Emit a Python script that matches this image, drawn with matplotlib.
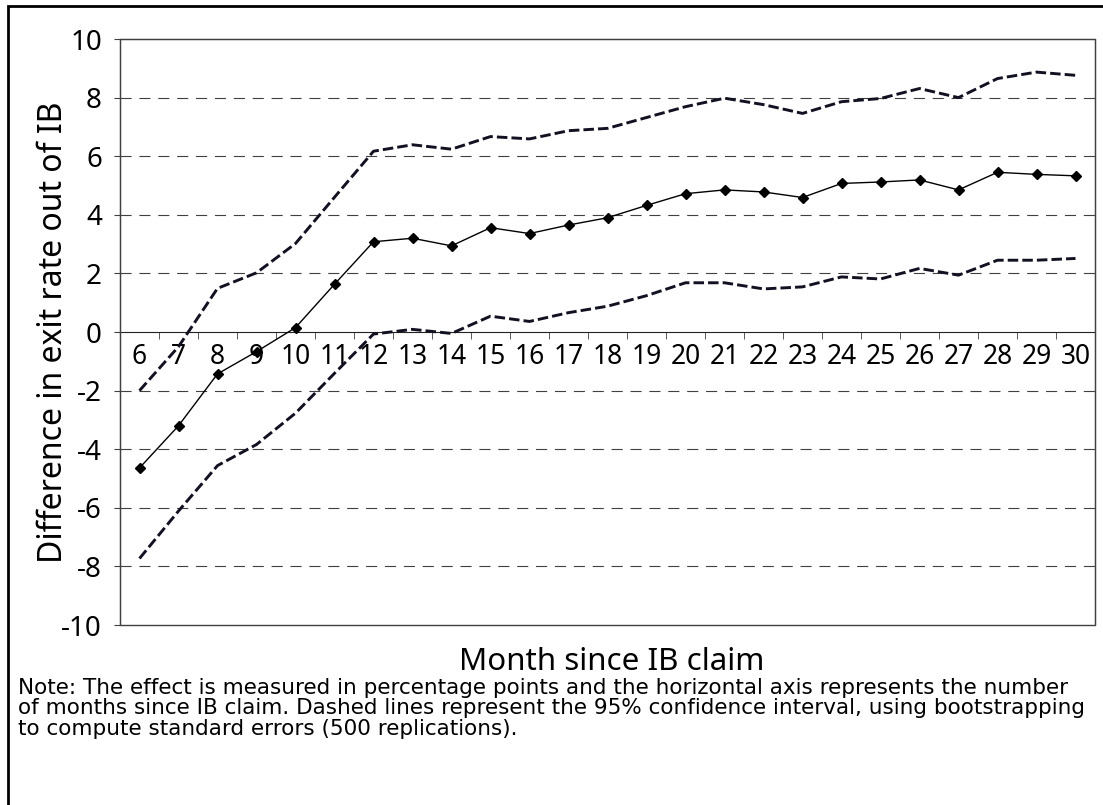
"""Effect on exit rate out of IB by month since claim, with 95% CI."""

import matplotlib
matplotlib.use("Agg")
import matplotlib.pyplot as plt
from matplotlib.patches import Rectangle

plt.rcParams["font.family"] = ["Noto Sans", "DejaVu Sans"]

months = list(range(6, 31))
effect = [-4.64, -3.20, -1.43, -0.67, 0.15, 1.63, 3.08, 3.20, 2.94, 3.56,
          3.36, 3.65, 3.90, 4.32, 4.72, 4.85, 4.78, 4.59, 5.07, 5.12,
          5.19, 4.85, 5.45, 5.38, 5.33]
upper = [-2.00, -0.50, 1.49, 2.02, 3.02, 4.60, 6.17, 6.39, 6.24, 6.67,
         6.59, 6.87, 6.95, 7.32, 7.69, 7.98, 7.76, 7.46, 7.86, 7.97,
         8.31, 8.00, 8.65, 8.87, 8.76]
lower = [-7.73, -6.11, -4.56, -3.84, -2.77, -1.41, -0.07, 0.09, -0.05, 0.54,
         0.36, 0.66, 0.88, 1.24, 1.68, 1.68, 1.47, 1.54, 1.88, 1.81,
         2.17, 1.94, 2.45, 2.45, 2.51]
y_ticks = list(range(-10, 11, 2))

note = ("Note: The effect is measured in percentage points and the horizontal axis represents the number\n"
        "of months since IB claim. Dashed lines represent the 95% confidence interval, using bootstrapping\n"
        "to compute standard errors (500 replications).")

fig = plt.figure(figsize=(11.03, 8.05), dpi=100)
ax = fig.add_axes([120 / 1103, 1 - 625 / 805, (1095 - 120) / 1103, (625 - 39) / 805])

# gridlines
for y in y_ticks:
    if y not in (-10, 0, 10):
        ax.axhline(y, color="#404040", lw=0.8, linestyle=(0, (10, 7)), zorder=1)

ci_style = dict(color="#111122", lw=2.1, linestyle=(0, (3.6, 1.4)), zorder=3)
ax.plot(months, upper, **ci_style)
ax.plot(months, lower, **ci_style)
ax.plot(months, effect, color="black", lw=1.0, marker="D", markersize=5.5, zorder=4)

ax.set_xlim(5.5, 30.5)
ax.set_ylim(-10, 10)

# x axis sits at y = 0, keep the box edge at -10
ax.spines["bottom"].set_position(("data", 0))
ax.spines["bottom"].set_color("#222222")
for s in ("left", "top", "right"):
    ax.spines[s].set_color("#404040")
ax.add_patch(Rectangle((0, 0), 1, 1, transform=ax.transAxes, fill=False,
                       edgecolor="#404040", lw=1.0, clip_on=False, zorder=5))

ax.set_xticks(months)
ax.set_xticks([m + 0.5 for m in range(5, 31)], minor=True)
ax.tick_params(axis="x", which="major", length=0, pad=8, labelsize=19)
ax.tick_params(axis="x", which="minor", length=5, direction="out", color="#404040")
ax.set_yticks(y_ticks)
ax.set_yticklabels([str(v) for v in y_ticks])
ax.tick_params(axis="y", length=4, direction="out", pad=9, labelsize=20, color="#404040")

ax.set_ylabel("Difference in exit rate out of IB", fontsize=23)
ax.yaxis.set_label_coords(-0.051, 0.5)
fig.text(612 / 1103, 1 - 662 / 805, "Month since IB claim", fontsize=22.5,
         ha="center", va="center")

fig.text(18 / 1103, 1 - 678 / 805, note, fontsize=15.5, ha="left", va="top",
         linespacing=1.02, family=["DejaVu Sans"])

# outer frame
fig.patches.append(Rectangle((8 / 1103, -0.1), 1.2, 1 - 6 / 805 + 0.1,
                             transform=fig.transFigure, fill=False,
                             edgecolor="black", lw=2, zorder=10))

fig.savefig("out.png", dpi=100)
plt.close(fig)
